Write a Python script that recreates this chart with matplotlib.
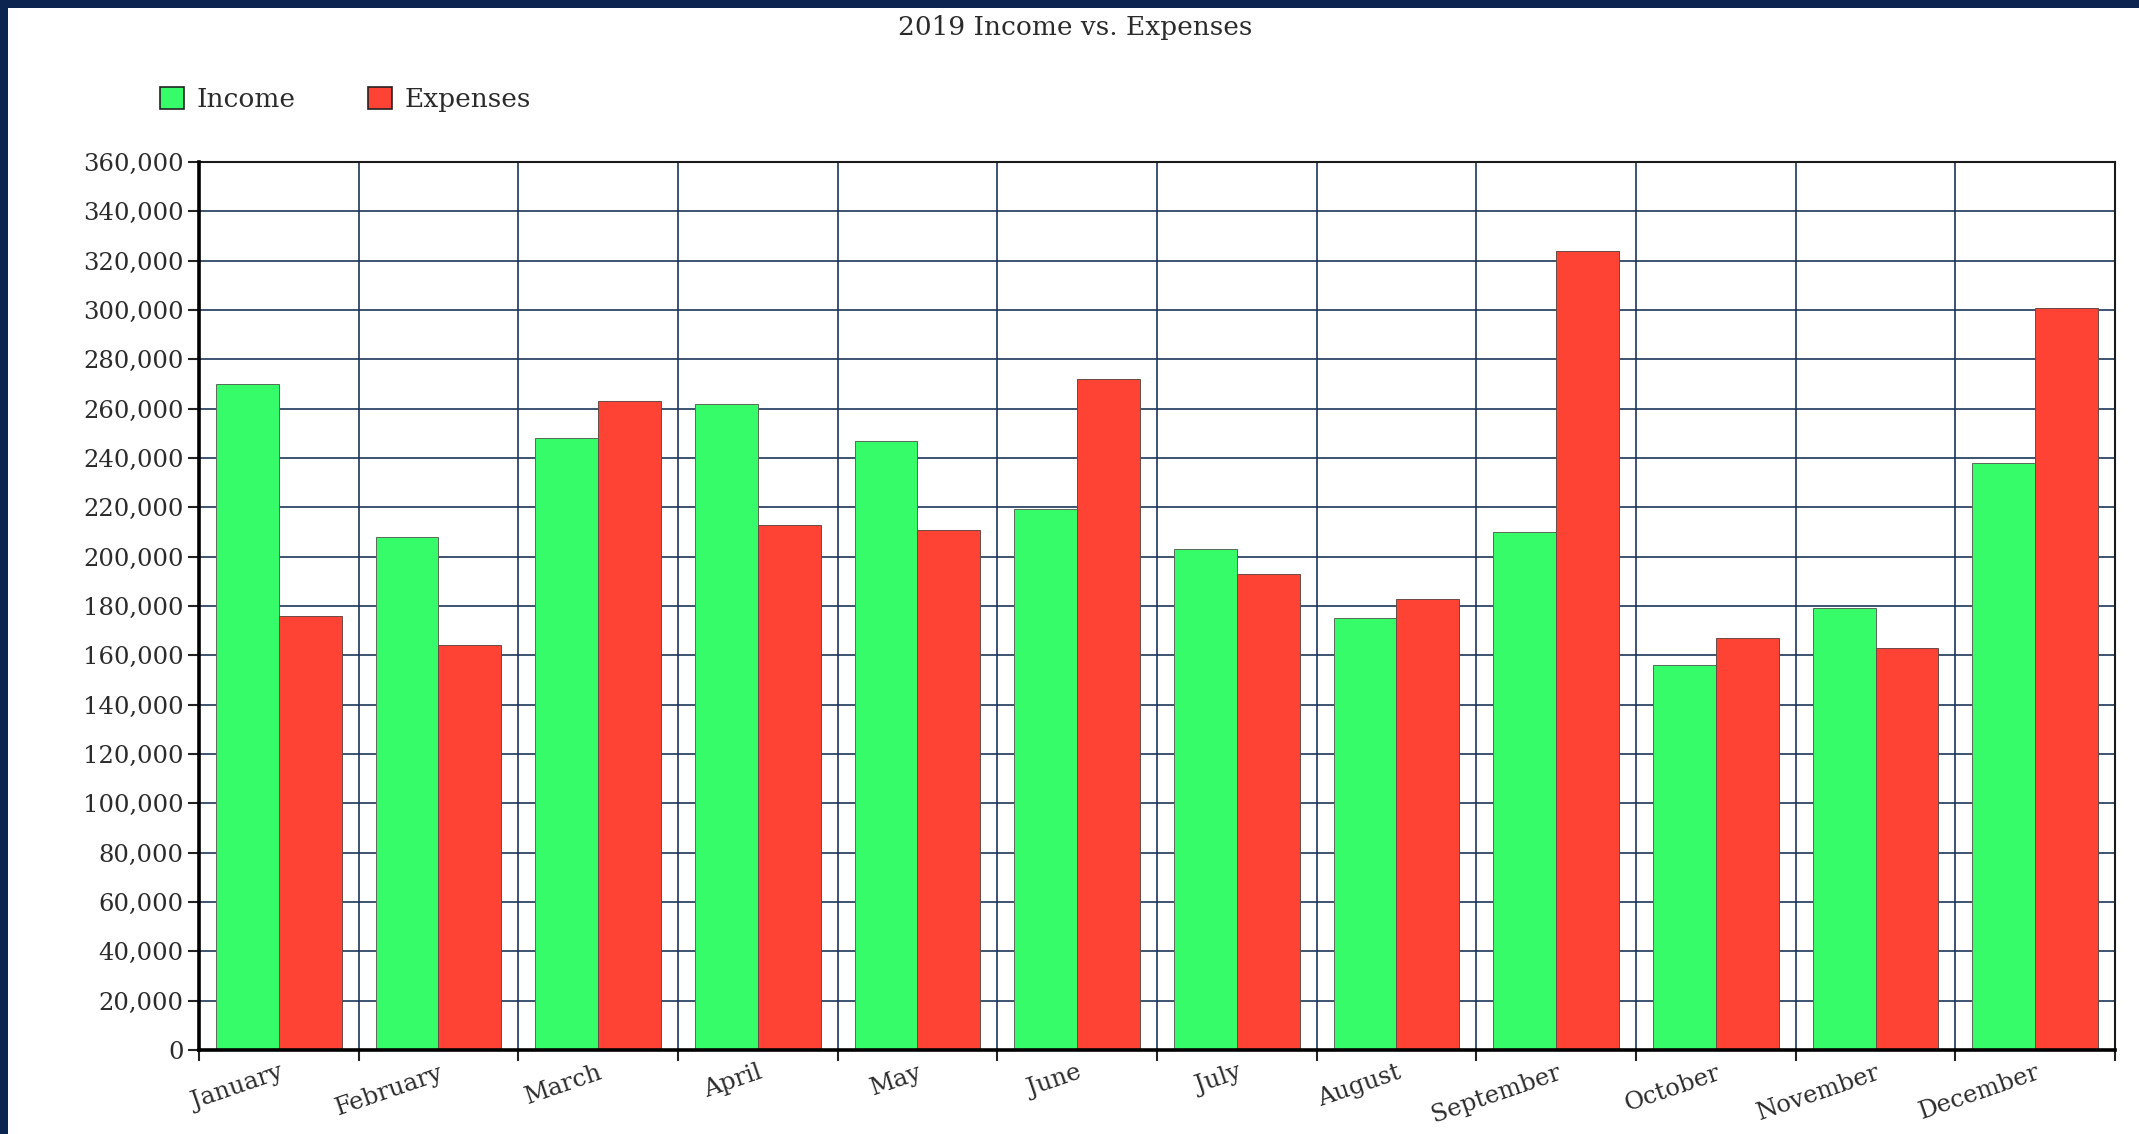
import numpy as np
import matplotlib.pyplot as plt
from matplotlib.patches import Patch, Rectangle

# Monthly data
months = ['January', 'February', 'March', 'April', 'May', 'June',
          'July', 'August', 'September', 'October', 'November', 'December']
income = [270000, 208000, 248000, 262000, 247000, 219500,
          203000, 175000, 210000, 156000, 179000, 238000]
expenses = [176000, 164000, 263000, 213000, 211000, 272000,
            193000, 183000, 324000, 167000, 163000, 301000]
y_ticks = list(range(0, 360001, 20000))

green = '#36fc6a'
red = '#fe4334'
navy = '#0b2450'
grid_col = '#1b3658'
txt_col = '#2b2b2b'

plt.rcParams['font.family'] = ['DejaVu Serif']

fig = plt.figure(figsize=(21.39, 11.34), dpi=100)
ax = fig.add_axes([0.0930, 0.0741, 0.8958, 0.7830])

x = np.arange(len(months))
w = 0.394
ax.bar(x - w / 2, income, w, color=green, edgecolor='#5a6a5a', linewidth=0.7, zorder=3)
ax.bar(x + w / 2, expenses, w, color=red, edgecolor='#6a4a45', linewidth=0.7, zorder=3)

ax.set_xlim(-0.5, len(months) - 0.5)
ax.set_ylim(0, 360000)

# y axis
ax.set_yticks(y_ticks)
ax.set_yticklabels([f'{v:,}' for v in y_ticks], fontsize=17.5, color=txt_col)
ax.tick_params(axis='y', direction='out', length=8, width=1.5, color='#222222', pad=3)

# x axis: tick marks and grid at category boundaries, labels at centres
ax.set_xticks(np.arange(-0.5, len(months)))
ax.set_xticklabels([])
ax.tick_params(axis='x', which='major', direction='out', length=8, width=1.5, color='#222222')
ax.set_xticks(x, minor=True)
ax.set_xticklabels(months, minor=True, rotation=19, ha='right', va='top',
                   rotation_mode='anchor', fontsize=17.5, color=txt_col)
ax.tick_params(axis='x', which='minor', length=0, pad=8)

ax.grid(True, which='major', color=grid_col, linewidth=1.2, zorder=0)
ax.set_axisbelow(True)

for side in ['left', 'bottom']:
    ax.spines[side].set_linewidth(2.6)
    ax.spines[side].set_color('black')
    ax.spines[side].set_zorder(4)
for side in ['top', 'right']:
    ax.spines[side].set_linewidth(1.5)
    ax.spines[side].set_color('#1a1a1a')

# title and legend
fig.text(0.5026, 0.976, '2019 Income vs. Expenses', ha='center', va='center',
         fontsize=19, color=txt_col)
handles = [Patch(facecolor=green, edgecolor='#222222', linewidth=1.2, label='Income'),
           Patch(facecolor=red, edgecolor='#222222', linewidth=1.2, label='Expenses')]
fig.legend(handles=handles, loc='center left', bbox_to_anchor=(0.0750, 0.912),
           ncol=2, frameon=False, fontsize=19, handlelength=0.9, handleheight=0.9,
           handletextpad=0.48, columnspacing=2.75, borderpad=0, borderaxespad=0,
           labelcolor=txt_col)

# dark frame on the left and top edges
fig.patches.append(Rectangle((0, 0), 8 / 2139, 1, transform=fig.transFigure,
                             facecolor=navy, edgecolor='none'))
fig.patches.append(Rectangle((0, 1 - 8 / 1134), 1, 8 / 1134, transform=fig.transFigure,
                             facecolor=navy, edgecolor='none'))

fig.savefig('out.png', dpi=100)
